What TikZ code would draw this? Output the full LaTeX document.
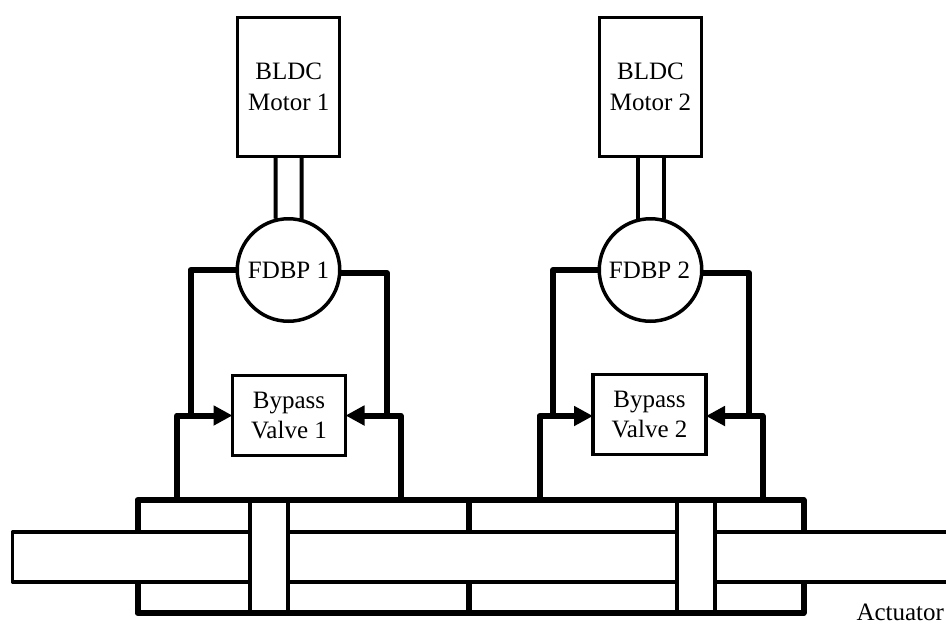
\documentclass[tikz,border=0pt]{standalone}
\usepackage{fontspec}
\setmainfont{Liberation Serif}
\usetikzlibrary{arrows.meta}
\tikzset{
  x=1pt,y=-1pt,
  txt/.style={font=\fontsize{25}{30.5}\selectfont,align=center,inner sep=0pt,outer sep=0pt},
  motorbox/.style={txt,draw,fill=white,line width=3.5pt,minimum width=102pt,minimum height=139pt},
  shaftline/.style={line width=4pt},
  pumpnode/.style={txt,circle,draw,fill=white,line width=3.5pt,minimum size=102.5pt},
  valvebox/.style={txt,draw,fill=white,line width=3.3pt,minimum width=113pt,minimum height=80.5pt},
  pipe/.style={line width=6pt,line join=round},
  flow/.style={line width=6pt,line join=round,-{Triangle[length=19pt,width=19pt]}},
  framebar/.style={line width=6pt,line join=round},
  part/.style={line width=5.5pt},
  rodline/.style={line width=3.4pt,line join=round,fill=white},
  piston/.style={draw,fill=white,line width=3.2pt,minimum width=38pt,minimum height=110pt,inner sep=0pt,outer sep=0pt}
}
\begin{document}
\begin{tikzpicture}
\useasboundingbox (0,0) rectangle (946,624);
% cylinder
\coordinate (cTL) at (137.5,500);
\coordinate (cBR) at (803.5,613);
\coordinate (pT) at (469,500);
\coordinate (pB) at (469,616);
\coordinate (rodTR) at (948,532);
\coordinate (rodTL) at (12.5,532);
\coordinate (rodBL) at (12.5,582);
\coordinate (rodBR) at (948,582);
\draw[framebar] (cTL) rectangle (cBR);
\draw[part] (pT) -- (pB);
\draw[rodline] (rodTR) -- (rodTL) -- (rodBL) -- (rodBR);
\node[piston] (p1) at (269,556.5) {};
\node[piston] (p2) at (696,556.5) {};
% motors
\node[motorbox] (m1) at (288.7,87) {BLDC\\Motor 1};
\node[motorbox] (m2) at (650.5,87) {BLDC\\Motor 2};
% valves
\node[valvebox] (v1) at (289,415.5) {Bypass\\Valve 1};
\node[valvebox] (v2) at (649.5,414.5) {Bypass\\Valve 2};
% taps and return lines
\coordinate (l1) at (190.5,416);
\coordinate (r1) at (387,416);
\coordinate (l2) at (553,416);
\coordinate (r2) at (749,416);
\coordinate (tl1) at (177,498);
\coordinate (tr1) at (400.5,498);
\coordinate (tl2) at (539.5,498);
\coordinate (tr2) at (762.5,498);
\node[pumpnode] (f1) at (288.5,270) {FDBP 1};
\node[pumpnode] (f2) at (650.5,270) {\hspace{-2pt}FDBP 2};
\draw[pipe] (f1.west) -| (l1);
\draw[pipe] ([yshift=-3pt]f1.east) -| (r1);
\draw[pipe] (f2.west) -| (l2);
\draw[pipe] ([yshift=-3pt]f2.east) -| (r2);
\draw[flow] (tl1) |- (v1.west);
\draw[flow] (tr1) |- (v1.east);
\draw[flow] (tl2) |- ([yshift=-1.5pt]v2.west);
\draw[flow] (tr2) |- ([yshift=-1.5pt]v2.east);
% shafts
\draw[shaftline] ([xshift=-13pt]m1.south) -- ([xshift=-13pt]f1.north);
\draw[shaftline] ([xshift=13pt]m1.south) -- ([xshift=13pt]f1.north);
\draw[shaftline] ([xshift=-13pt]m2.south) -- ([xshift=-13pt]f2.north);
\draw[shaftline] ([xshift=13pt]m2.south) -- ([xshift=13pt]f2.north);
\node[txt,anchor=base east] (act) at (944,620) {Actuator};
\end{tikzpicture}
\end{document}
